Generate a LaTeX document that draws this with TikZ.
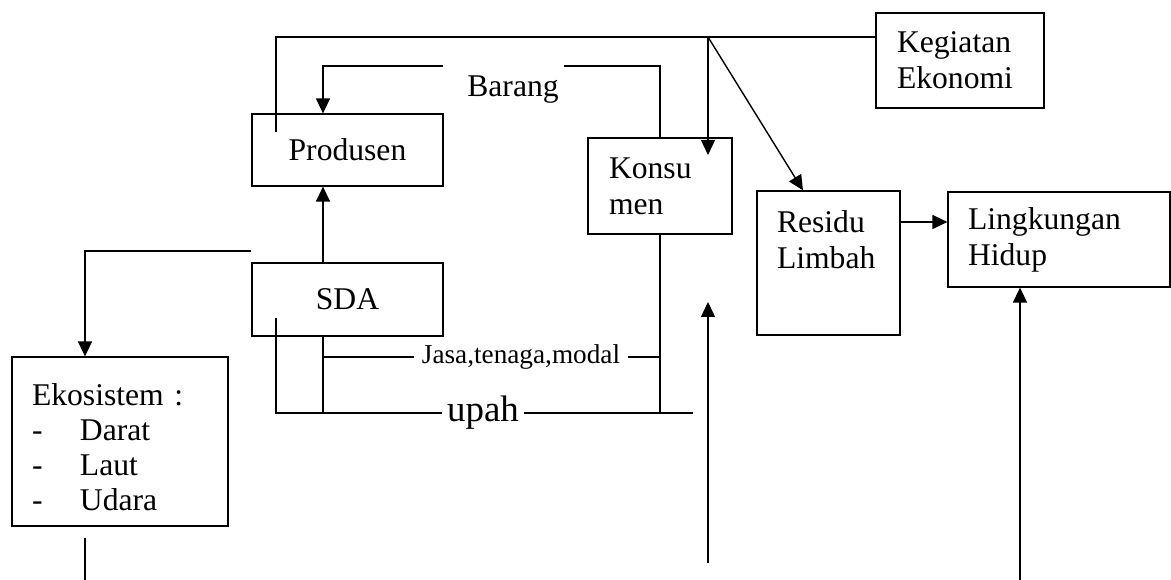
\documentclass[tikz,border=0pt]{standalone}
\usepackage{fontspec}
\setmainfont{Liberation Serif}
\usetikzlibrary{positioning, arrows.meta, calc}
\tikzset{
  box/.style={rectangle, draw, line width=0.7pt, inner xsep=0.4cm, inner ysep=0pt,
              align=left, font=\fontsize{18}{20.5}\selectfont},
  centre box/.style={box, align=center, inner xsep=0pt},
  lbl/.style={inner ysep=0pt, inner xsep=0pt, font=\fontsize{18}{20.5}\selectfont},
  small lbl/.style={lbl, font=\fontsize{15.5}{18}\selectfont},
  big lbl/.style={lbl, font=\fontsize{21}{24}\selectfont},
  wire/.style={line width=0.8pt},
  arr/.style={wire, -{Triangle[length=0.3cm, width=0.28cm]}},
}

\begin{document}
\begin{tikzpicture}[x=0.02cm, y=-0.02cm]
    \useasboundingbox (0,0) rectangle (1171,580);

    % boxes
    \node[centre box, minimum width=3.82cm, minimum height=1.44cm] (produsen) at (347.5,150) {Produsen};
    \node[centre box, minimum width=3.82cm, minimum height=1.46cm] (sda) at (347.5,299.5) {SDA};
    \node[box, inner xsep=0.42cm, text width=2.04cm, minimum height=1.92cm] (konsumen) at (660,186) {Konsu\\men};
    \node[box, text width=2.06cm, minimum height=2.88cm] (residu) at (828.5,263) {Residu\\Limbah\\[0.2cm]\mbox{}};
    \node[box, text width=3.64cm, minimum height=1.9cm] (lingkungan) at (1059,239.5) {Lingkungan\\Hidup};
    \node[box, inner xsep=0.42cm, text width=2.52cm, minimum height=1.9cm] (kegiatan) at (960,60.5) {Kegiatan\\Ekonomi};
    \node[box, text width=3.52cm, minimum height=3.38cm, font=\fontsize{18}{19.9}\selectfont] (ekosistem) at (120,441.5)
        {\rule{0pt}{0.65cm}Ekosistem :\\\makebox[0.96cm][l]{-}Darat\\\makebox[0.96cm][l]{-}Laut\\\makebox[0.96cm][l]{-}Udara};

    % labels on the lines
    \node[lbl] (barang) at (513,90) {Barang};
    \node[small lbl, inner xsep=0.15cm] (jasa) at (521,357) {Jasa,tenaga,modal};
    \node[big lbl, inner xsep=0.09cm] (upah) at (483,413) {upah};

    \coordinate (split) at (708,37);
    \coordinate (prodin) at (276,132);
    \coordinate (konsin) at (708,155);
    \coordinate (barR) at (564,66);
    \coordinate (barL) at (443,66);
    \coordinate (col) at (323,357);
    \coordinate (sdain) at (276,318);
    \coordinate (upahR) at (693,413);
    \coordinate (ekoin) at (251,251);
    \coordinate (ekoout) at (85,580);
    \coordinate (upfoot) at (708,563);
    \coordinate (uptip) at (708,302);
    \coordinate (hidupin) at (1020,580);

    % kegiatan ekonomi
    \draw[wire] (kegiatan.west |- split) -| (prodin);
    \draw[arr] (split) -- (konsin);
    \draw[arr] (split) -- ($(residu.north)+(-25.5,0)$);

    % barang
    \draw[wire] (konsumen.north) |- (barR);
    \draw[arr] (barL) -| (produsen.north -| col);

    % sda
    \draw[arr] (sda.north -| col) -- (produsen.south -| col);
    \draw[wire] (sda.south -| col) -- (col |- upah);
    \draw[wire] (col) -- (jasa.west);
    \draw[wire] (jasa.east) -- (jasa.east -| konsumen.south);
    \draw[wire] (sdain) |- (upah.west);
    \draw[wire] (upah.east) -- (upahR);
    \draw[wire] (konsumen.south) -- (konsumen.south |- upah);

    % ekosistem
    \draw[arr] (ekoin) -| ($(ekosistem.north)+(-35,0)$);
    \draw[wire] ($(ekosistem.south)+(-35,11)$) -- (ekoout);

    % lingkungan
    \draw[arr] (upfoot) -- (uptip);
    \draw[arr] ($(residu.east)+(0,-41)$) -- ($(lingkungan.west)+(0,-17.5)$);
    \draw[arr] (hidupin) -- (lingkungan.south -| hidupin);
\end{tikzpicture}
\end{document}
